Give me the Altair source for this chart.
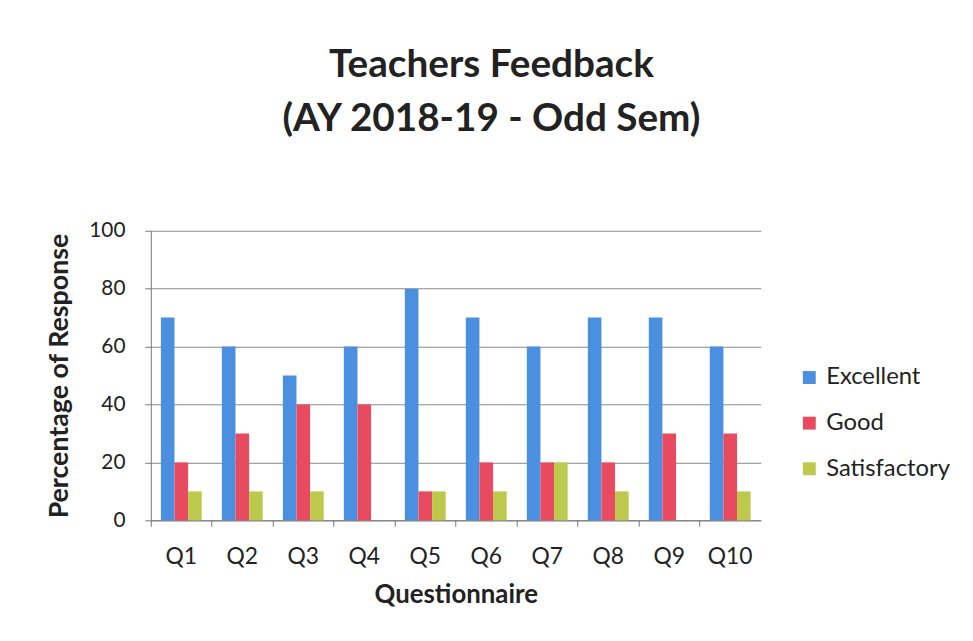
import altair as alt
import pandas as pd

questions = ["Q1", "Q2", "Q3", "Q4", "Q5", "Q6", "Q7", "Q8", "Q9", "Q10"]
excellent = [70, 60, 50, 60, 80, 70, 60, 70, 70, 60]
good = [20, 30, 40, 40, 10, 20, 20, 20, 30, 30]
satisfactory = [10, 10, 10, 0, 10, 10, 20, 10, 0, 10]
series = ["Excellent", "Good", "Satisfactory"]
colors = ["#4a8fe0", "#e84a5f", "#bcc94c"]

rows = []
for i, q in enumerate(questions):
    for s, vals in zip(series, [excellent, good, satisfactory]):
        rows.append({"Question": q, "Rating": s, "Value": vals[i]})
df = pd.DataFrame(rows)

FONT = "Lato"

chart = (
    alt.Chart(df)
    .mark_bar()
    .encode(
        x=alt.X(
            "Question:N",
            sort=questions,
            scale=alt.Scale(paddingInner=0, paddingOuter=0),
            axis=alt.Axis(
                title="Questionnaire",
                labelAngle=0,
                bandPosition=0,
                ticks=True,
                tickSize=6,
                tickColor="#777",
                domainColor="#777",
                labelPadding=20,
                labelFontSize=23,
                labelColor="#222",
                titleFontSize=26,
                titleFontWeight="bold",
                titleColor="#222",
                titlePadding=13,
                grid=False,
            ),
        ),
        xOffset=alt.XOffset(
            "Rating:N",
            sort=series,
            scale=alt.Scale(paddingInner=0, paddingOuter=0.74),
        ),
        y=alt.Y(
            "Value:Q",
            scale=alt.Scale(domain=[0, 100]),
            axis=alt.Axis(
                title="Percentage of Response",
                values=[0, 20, 40, 60, 80, 100],
                tickSize=6,
                tickColor="#777",
                domainColor="#777",
                gridColor="#8a8a8a",
                gridWidth=1,
                labelPadding=20,
                labelFontSize=21,
                labelColor="#222",
                titleFontSize=27,
                titleFontWeight="bold",
                titleColor="#222",
                titlePadding=15,
            ),
        ),
        color=alt.Color(
            "Rating:N",
            sort=series,
            scale=alt.Scale(domain=series, range=colors),
            legend=alt.Legend(
                title=None,
                orient="none",
                legendX=652,
                legendY=136,
                symbolType="square",
                symbolSize=169,
                symbolStrokeWidth=0,
                labelFontSize=24,
                labelColor="#222",
                labelOffset=5,
                rowPadding=22,
            ),
        ),
    )
    .properties(
        width=615,
        height=292,
        title=alt.TitleParams(
            text=["Teachers Feedback", "(AY 2018-19 - Odd Sem)"],
            fontSize=39,
            fontWeight="bold",
            color="#222",
            anchor="middle",
            dx=36,
            offset=82,
            lineHeight=54,
        ),
        autosize=alt.AutoSizeParams(type="none"),
        padding={"left": 144, "top": 222, "right": 206, "bottom": 111},
    )
    .configure(font=FONT)
    .configure_view(stroke=None)
)

chart.save("out.html", embed_options={"renderer": "svg", "actions": False})
